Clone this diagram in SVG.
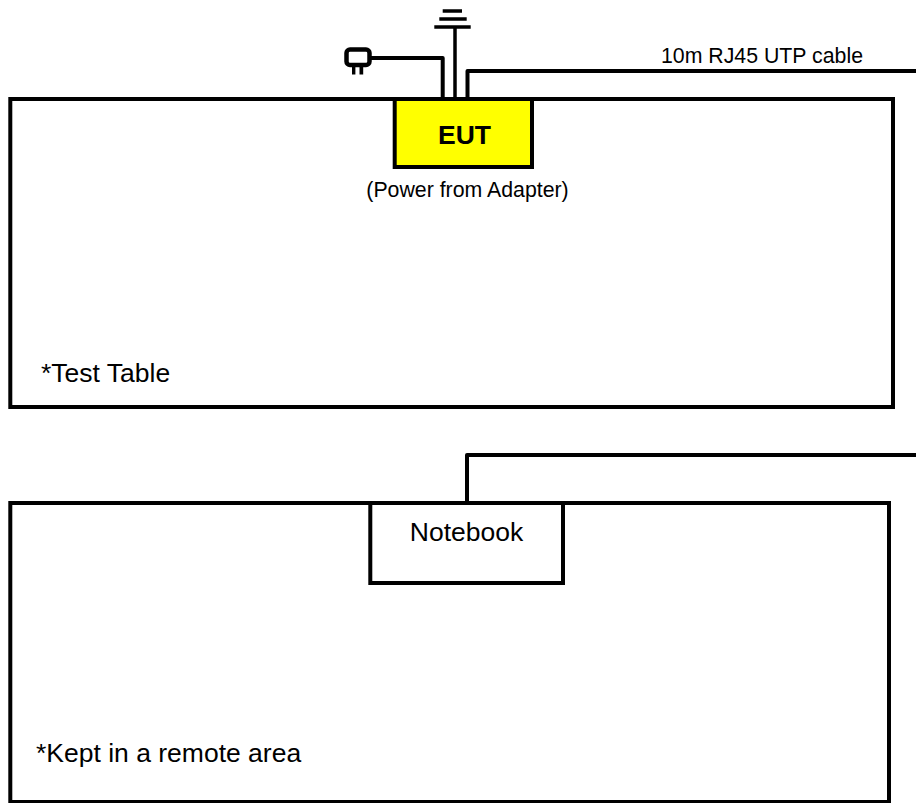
<svg xmlns="http://www.w3.org/2000/svg" width="916" height="803" viewBox="0 0 916 803">
<style>
.box{fill:#fff;stroke:#000;stroke-width:4}
.line{fill:none;stroke:#000;stroke-width:4;stroke-linejoin:round}
.thin{fill:none;stroke:#000;stroke-width:3.5}
text{font-family:"Liberation Sans",Arial,sans-serif;fill:#000}
.sm{font-size:21.3px}
.md{font-size:26.5px}
</style>
<rect width="916" height="803" fill="#fff"/>
<g id="test-table"><rect class="box" x="10.3" y="99" width="882.7" height="308"/><text class="md" x="41" y="382">*Test Table</text></g>
<g id="remote-table"><rect class="box" x="10.3" y="503" width="878.7" height="299"/><text class="md" x="36" y="762">*Kept in a remote area</text></g>
<g id="connectors">
<path class="line" d="M371 58H442.7V97"/>
<path class="thin" d="M455 27V97"/>
<path class="line" d="M467.5 97V71H916"/>
<path class="line" d="M467 501V455H916"/>
</g>
<g id="eut"><rect class="box" x="394.7" y="99" width="137.3" height="68" style="fill:#ff0"/><text x="464.5" y="144" text-anchor="middle" font-size="26.5" font-weight="700">EUT</text></g>
<text class="sm" x="467.5" y="197" text-anchor="middle">(Power from Adapter)</text>
<g id="notebook"><rect class="box" x="370.3" y="503" width="192.7" height="80"/><text x="466.5" y="541" text-anchor="middle" font-size="26.5">Notebook</text></g>
<g id="ground"><path class="thin" d="M434.3 27H470.7M439.3 19H466.7M442.7 11H462"/></g>
<g id="plug"><rect x="346.5" y="49.5" width="23" height="15.5" rx="3.5" fill="#fff" stroke="#000" stroke-width="4.5"/><path d="M352 67h3.4v7.6H352zM359.5 67h3.7v7.6h-3.7z" fill="#000"/></g>
<text class="sm" x="661" y="63">10m RJ45 UTP cable</text>
</svg>
